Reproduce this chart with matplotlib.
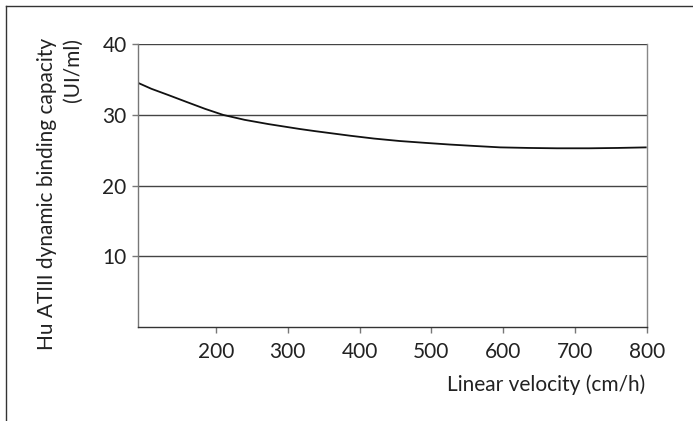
import matplotlib
matplotlib.use("Agg")
import matplotlib.pyplot as plt
from matplotlib.lines import Line2D

# Data
velocity = [91, 110, 134, 160, 185, 210, 240, 273, 317, 338, 387, 420, 456, 490, 526, 560, 596, 635, 675, 720, 760, 800]
capacity = [34.56, 33.7, 32.8, 31.8, 30.85, 30.0, 29.3, 28.7, 28.0, 27.7, 27.05, 26.65, 26.3, 26.05, 25.8, 25.6, 25.4, 25.32, 25.27, 25.27, 25.32, 25.4]

x_ticks = [200, 300, 400, 500, 600, 700, 800]
y_ticks = [10, 20, 30, 40]
x_label = "Linear velocity (cm/h)"
y_label = "Hu ATIII dynamic binding capacity\n(UI/ml)"

plt.rcParams['font.family'] = ['Lato', 'DejaVu Sans']

W, H = 693, 421
fig = plt.figure(figsize=(W / 100, H / 100), dpi=100)
ax = fig.add_axes([137.7 / W, 1 - 326.7 / H, (646.7 - 137.7) / W, (326.7 - 44.3) / H])

ax.plot(velocity, capacity, color='#111111', lw=1.3, solid_capstyle='butt')

ax.set_xlim(91, 800)
ax.set_ylim(0, 40)
ax.set_xticks(x_ticks)
ax.set_yticks(y_ticks)
ax.tick_params(axis='both', direction='out', length=4, width=1, color='#777777',
               labelsize=15, labelcolor='#222222')
ax.tick_params(axis='x', pad=7)
ax.tick_params(axis='y', pad=4)

for yv in y_ticks:
    ax.axhline(yv, color='#444444', lw=1.0, zorder=1)

ax.spines['top'].set_visible(False)
ax.spines['left'].set_color('#777777')
ax.spines['right'].set_color('#888888')
ax.spines['bottom'].set_color('#333333')
for s in ['left', 'right', 'bottom']:
    ax.spines[s].set_linewidth(1.0)

fig.text(645.5 / W, 1 - 391 / H, x_label, ha='right', va='baseline',
         fontsize=15, color='#222222')
fig.text(60 / W, 1 - 194 / H, y_label, ha='center', va='center', rotation=90,
         multialignment='right', fontsize=15, color='#222222', linespacing=1.4)

# Figure frame (top and left)
fig.add_artist(Line2D([6 / W, 1.0], [1 - 6 / H, 1 - 6 / H], transform=fig.transFigure,
                      color='#333333', lw=1.0))
fig.add_artist(Line2D([6 / W, 6 / W], [1 - 6 / H, 0.0], transform=fig.transFigure,
                      color='#333333', lw=1.0))

fig.savefig('out.png', dpi=100)
